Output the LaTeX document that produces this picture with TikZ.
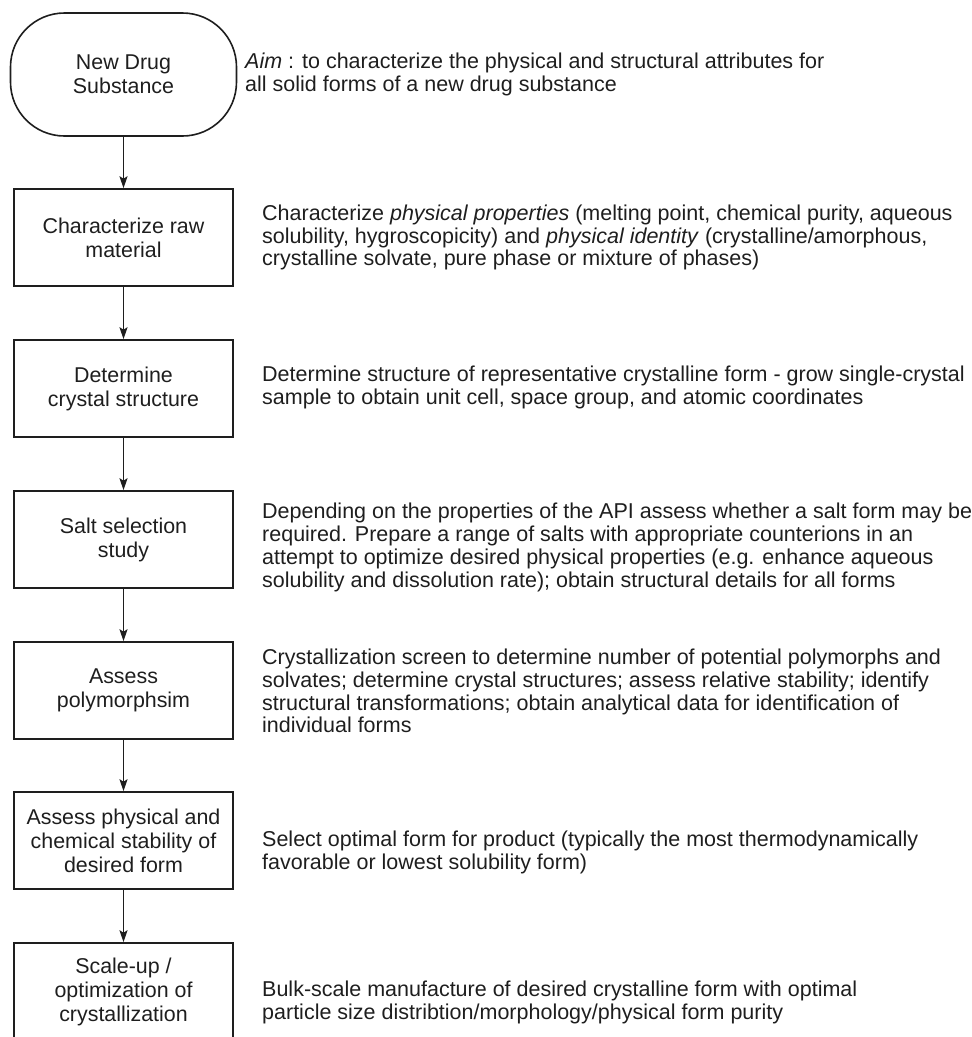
\documentclass[tikz,border=0pt]{standalone}
\usepackage{fontspec}
\setmainfont{Liberation Sans}
\usetikzlibrary{arrows.meta}
\definecolor{ink}{HTML}{1E1E1E}
\begin{document}
\begin{tikzpicture}[x=1pt,y=-1pt,
  stepbox/.style={draw=ink, line width=1.6pt, minimum width=219pt, minimum height=97pt,
    inner sep=0pt, align=center, font=\fontsize{21.4}{24}\selectfont, text=ink},
  startbox/.style={stepbox, rounded corners=54pt, minimum width=226pt, minimum height=123pt},
  note/.style={anchor=west, align=left, inner sep=0pt, font=\fontsize{21.5}{22.8}\selectfont, text=ink},
  flow/.style={draw=ink, line width=1.1pt, -{Stealth[length=12pt,width=8pt,inset=2.5pt]}}
]
\useasboundingbox (0,0) rectangle (972,1037);
\clip (0,0) rectangle (972,1037);

% process steps
\node[startbox] (s0) at (123.5,74.5) {New Drug\\Substance};
\node[stepbox] (s1) at (123.5,237.5) {Characterize raw\\material};
\node[stepbox] (s2) at (123.5,388.5) {Determine\\crystal structure};
\node[stepbox] (s3) at (123.5,539.5) {Salt selection\\study};
\node[stepbox] (s4) at (123.5,690.5) {Assess\\polymorphsim};
\node[stepbox] (s5) at (123.5,840.5) {Assess physical and\\chemical stability of\\desired form};
\node[stepbox] (s6) at (123.5,991.5) {Scale-up /\\optimization of\\crystallization};

% descriptions
\node[note] (n0) at (245,74.5) {\textit{Aim} : to characterize the physical and structural attributes for\\all solid forms of a new drug substance};
\node[note] (n1) at (262,237.5) {Characterize \textit{physical properties} (melting point, chemical purity, aqueous\\solubility, hygroscopicity) and \textit{physical identity} (crystalline/amorphous,\\crystalline solvate, pure phase or mixture of phases)};
\node[note] (n2) at (262,387.5) {Determine structure of representative crystalline form - grow single-crystal\\sample to obtain unit cell, space group, and atomic coordinates};
\node[note] (n3) at (262,547.5) {Depending on the properties of the API assess whether a salt form may be\\required. Prepare a range of salts with appropriate counterions in an\\attempt to optimize desired physical properties (e.g. enhance aqueous\\solubility and dissolution rate); obtain structural details for all forms};
\node[note] (n4) at (262,691) {Crystallization screen to determine number of potential polymorphs and\\solvates; determine crystal structures; assess relative stability; identify\\structural transformations; obtain analytical data for identification of\\individual forms};
\node[note] (n5) at (262,852.5) {Select optimal form for product (typically the most thermodynamically\\favorable or lowest solubility form)};
\node[note] (n6) at (262,1002.5) {Bulk-scale manufacture of desired crystalline form with optimal\\particle size distribtion/morphology/physical form purity};

% connectors
\draw[flow] (s0.south) -- (s1.north);
\draw[flow] (s1.south) -- (s2.north);
\draw[flow] (s2.south) -- (s3.north);
\draw[flow] (s3.south) -- (s4.north);
\draw[flow] (s4.south) -- (s5.north);
\draw[flow] (s5.south) -- (s6.north);
\end{tikzpicture}
\end{document}
